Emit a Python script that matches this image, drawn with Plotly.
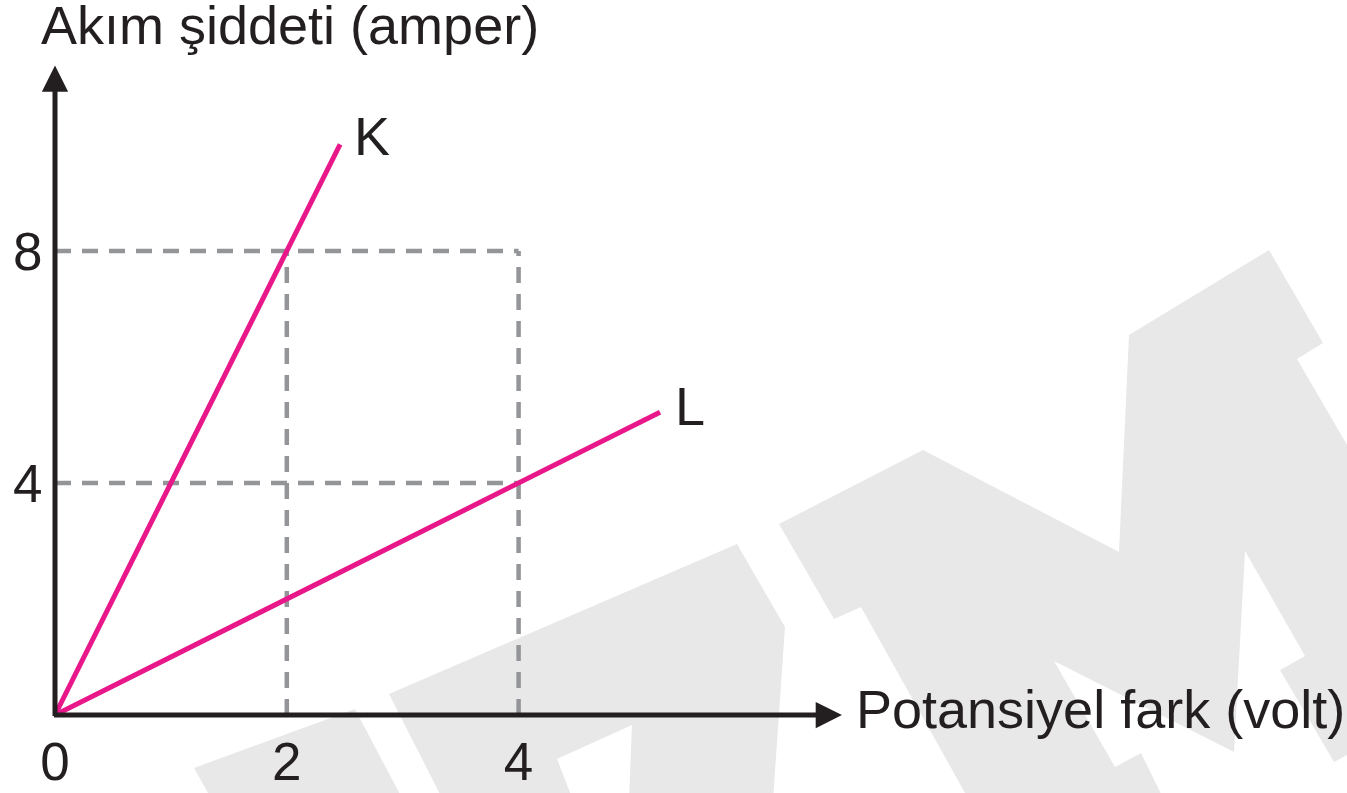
import plotly.graph_objects as go

# ---------------- data ----------------
k_volt = [0, 2.46]
k_amp = [0, 9.84]
l_volt = [0, 5.22]
l_amp = [0, 5.22]
ref_volt = [2, 4]          # dashed guide positions on the x axis
ref_amp = [4, 8]           # dashed guide positions on the y axis
x_ticks = [0, 2, 4]
y_ticks = [4, 8]
x_title = "Potansiyel fark (volt)"
y_title = "Akım şiddeti (amper)"
line_names = ["K", "L"]

# ---------------- layout constants ----------------
W, H = 1347, 793
ORIGIN_PX = (55, 715)
PX_PER_X = 115.9
PX_PER_Y = 58.0
plot_w = W - ORIGIN_PX[0]
plot_h = ORIGIN_PX[1]
x_rng = [0, plot_w / PX_PER_X]
y_rng = [0, plot_h / PX_PER_Y]
X_AXIS_END = 6.79
Y_AXIS_END = 11.2

PINK = "#E8178A"
GREY = "#939598"
INK = "#231f20"
FONT = "Liberation Sans, Arial, Helvetica, sans-serif"
FS_TITLE = 54
FS_TICK = 53
FS_NAME = 54


def px_to_paper(px, py):
    return (px - ORIGIN_PX[0]) / plot_w, (ORIGIN_PX[1] - py) / plot_h


fig = go.Figure()

# dashed guide lines
top_amp = max(ref_amp)
right_volt = max(ref_volt)
for v in ref_volt:
    fig.add_trace(go.Scatter(x=[v, v], y=[0, top_amp], mode="lines",
                             line=dict(color=GREY, width=4.5, dash="16px,11px"),
                             hoverinfo="skip", showlegend=False))
for a in ref_amp:
    fig.add_trace(go.Scatter(x=[0, right_volt], y=[a, a], mode="lines",
                             line=dict(color=GREY, width=4.5, dash="16px,11px"),
                             hoverinfo="skip", showlegend=False))

# K and L lines
for name, xs, ys in [("K", k_volt, k_amp), ("L", l_volt, l_amp)]:
    fig.add_trace(go.Scatter(x=xs, y=ys, mode="lines", name=name,
                             line=dict(color=PINK, width=5),
                             showlegend=False))

# ---------------- watermark (decorative background) ----------------
wm_polys = [
    [(194, 768), (355, 709), (403, 800), (212, 800)],
    [(389, 694), (737, 544), (785, 627), (773, 800), (629, 800), (632, 725),
     (557, 759), (573, 800), (443, 800)],
    [(779, 524), (923, 450), (1119, 552), (1129, 335), (1269, 250), (1323, 343),
     (1297, 359), (1360, 467), (1360, 748), (1334, 762), (1280, 670), (1305, 656),
     (1245, 551), (1234, 752), (1054, 661), (1115, 767), (1141, 753), (1164, 800),
     (969, 800), (861, 607), (834, 619)],
]
shapes = []
for poly in wm_polys:
    pts = [px_to_paper(px, py) for px, py in poly]
    path = "M " + " L ".join(f"{x:.5f},{y:.5f}" for x, y in pts) + " Z"
    shapes.append(dict(type="path", path=path, xref="paper", yref="paper",
                       fillcolor="#e8e8e9", line=dict(width=0), layer="below"))

# ---------------- annotations: axes arrows, labels ----------------
ytx, yty = px_to_paper(39, 25)
annotations = [
    # x axis arrow
    dict(x=X_AXIS_END, y=0, ax=-0.022, ay=0, xref="x", yref="y", axref="x", ayref="y",
         text="", showarrow=True, arrowhead=2, arrowsize=1.05, arrowwidth=5,
         arrowcolor=INK),
    # y axis arrow
    dict(x=0, y=Y_AXIS_END, ax=0, ay=-0.045, xref="x", yref="y", axref="x", ayref="y",
         text="", showarrow=True, arrowhead=2, arrowsize=1.05, arrowwidth=5,
         arrowcolor=INK),
    dict(x=X_AXIS_END + 0.105, y=0.10, xref="x", yref="y", text=x_title,
         showarrow=False, xanchor="left", yanchor="middle",
         font=dict(family=FONT, size=FS_TITLE, color=INK)),
    dict(x=ytx, y=yty, xref="paper", yref="paper", text=y_title,
         showarrow=False, xanchor="left", yanchor="middle",
         font=dict(family=FONT, size=FS_TITLE, color=INK)),
    dict(x=k_volt[-1] + 0.10, y=k_amp[-1] + 0.15, xref="x", yref="y", text=line_names[0],
         showarrow=False, xanchor="left", yanchor="middle",
         font=dict(family=FONT, size=FS_NAME, color=INK)),
    dict(x=l_volt[-1] + 0.11, y=l_amp[-1] + 0.10, xref="x", yref="y", text=line_names[1],
         showarrow=False, xanchor="left", yanchor="middle",
         font=dict(family=FONT, size=FS_NAME, color=INK)),
]

fig.update_layout(
    width=W, height=H,
    margin=dict(l=ORIGIN_PX[0], r=0, t=0, b=H - ORIGIN_PX[1], pad=0, autoexpand=False),
    paper_bgcolor="white", plot_bgcolor="rgba(0,0,0,0)",
    shapes=shapes, annotations=annotations, showlegend=False,
    xaxis=dict(range=x_rng, tickvals=x_ticks, ticktext=[str(t) for t in x_ticks],
               showgrid=False, zeroline=False, showline=False, automargin=False,
               ticks="outside", ticklen=0, tickcolor="rgba(0,0,0,0)",
               tickfont=dict(family=FONT, size=FS_TICK, color=INK), fixedrange=True),
    yaxis=dict(range=y_rng, tickvals=y_ticks, ticktext=[str(t) for t in y_ticks],
               showgrid=False, zeroline=False, showline=False, automargin=False,
               ticks="outside", ticklen=1, tickcolor="rgba(0,0,0,0)",
               tickfont=dict(family=FONT, size=FS_TICK, color=INK), fixedrange=True),
)

fig.write_html("out.html", config={"displayModeBar": False},
               post_script="document.body.style.margin='0px';"
                           "document.body.style.overflow='hidden';")
